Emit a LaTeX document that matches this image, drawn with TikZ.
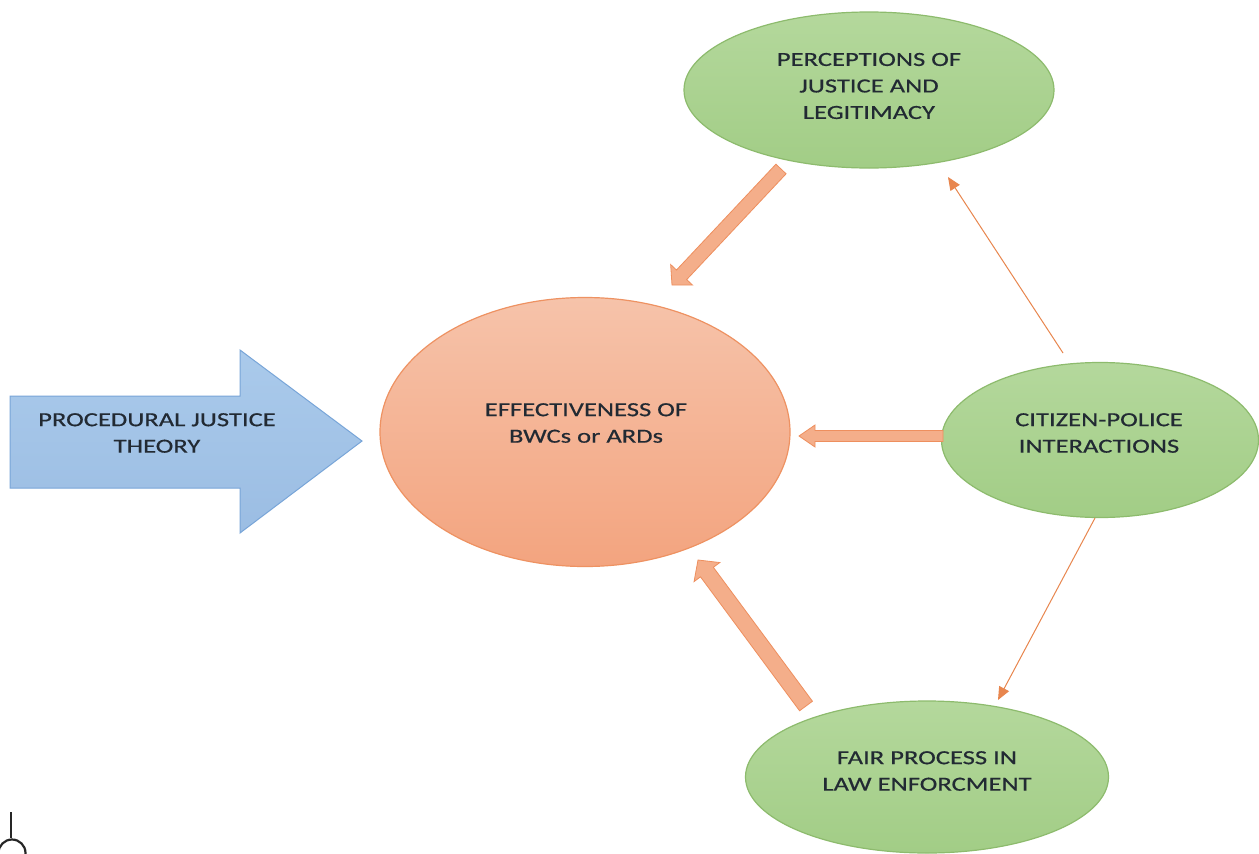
\documentclass[tikz,border=0pt]{standalone}
\usepackage{fontspec}
\newfontfamily\diagfont[FakeStretch=1.33,FakeBold=0.5]{Carlito}
\usetikzlibrary{shapes.geometric,arrows.meta,calc}
\definecolor{txtc}{HTML}{222A33}
\definecolor{greenT}{HTML}{B4D89C}
\definecolor{greenB}{HTML}{A2CD86}
\definecolor{greenline}{HTML}{8DBB6D}
\definecolor{salmonT}{HTML}{F6C3AA}
\definecolor{salmonB}{HTML}{F3A47F}
\definecolor{salmonline}{HTML}{EE9262}
\definecolor{fatfill}{HTML}{F4AE8A}
\definecolor{fatline}{HTML}{EE8F5E}
\definecolor{thinc}{HTML}{E8864E}
\definecolor{blueT}{HTML}{AACAEB}
\definecolor{blueB}{HTML}{9BBDE3}
\definecolor{blueline}{HTML}{78A5D8}
% #1 from, #2 to, #3 half shaft width, #4 half head width, #5 head length
\newcommand\fatarrow[5]{%
  \coordinate (fa-h) at ($(#2)!#5!(#1)$);
  \draw[fatstyle] ($(#1)!#3!90:(#2)$) -- ($(fa-h)!#3!-90:(#1)$) -- ($(fa-h)!#4!-90:(#1)$)
     -- (#2) -- ($(fa-h)!#4!90:(#1)$) -- ($(fa-h)!#3!90:(#1)$) -- ($(#1)!#3!-90:(#2)$) -- cycle;}
\begin{document}
\begin{tikzpicture}[x=1pt,y=-1pt,
  lbl/.style={font=\diagfont\fontsize{20}{26.5}\selectfont, text=txtc, align=center, inner sep=0pt},
  greenell/.style={ellipse, draw=greenline, line width=1.2pt, top color=greenT, bottom color=greenB, inner sep=0pt},
  salmonell/.style={ellipse, draw=salmonline, line width=1.2pt, top color=salmonT, bottom color=salmonB, inner sep=0pt},
  fatstyle/.style={fill=fatfill, draw=fatline, line width=0.8pt, line join=miter},
  thinarrow/.style={draw=thinc, line width=1pt, -{Triangle[length=13pt,width=11pt]}},
  bluearrow/.style={draw=blueline, line width=1pt, top color=blueT, bottom color=blueB}
]
\useasboundingbox (0,0) rectangle (1259,854);
\fill[white] (0,0) rectangle (1259,854);
\clip (0,0) rectangle (1259,854);

% blue input arrow
\path[bluearrow] (10,396) -- (240,396) -- (240,350) -- (362,441) -- (240,533) -- (240,488) -- (10,488) -- cycle;
\node[lbl] (pjt) at (157,433) {PROCEDURAL JUSTICE\\THEORY};

% ellipses
\node[salmonell, minimum width=410pt, minimum height=269pt] (eff) at (585,432) {};
\node[lbl] (effT) at (586,423) {EFFECTIVENESS OF\\BWCs or ARDs};

\node[greenell, minimum width=370pt, minimum height=156pt] (perc) at (869,90) {};
\node[lbl] (percT) at (869,86) {PERCEPTIONS OF\\JUSTICE AND\\LEGITIMACY};

\node[greenell, minimum width=317pt, minimum height=155pt] (cit) at (1100,440) {};
\node[lbl] (citT) at (1099,433) {CITIZEN-POLICE\\INTERACTIONS};

\node[greenell, minimum width=363pt, minimum height=152pt] (fair) at (927,777) {};
\node[lbl] (fairT) at (927,771) {FAIR PROCESS IN\\LAW ENFORCMENT};

% connector end points
\coordinate (f1s) at (781,169);
\coordinate (f1e) at (672,285);
\coordinate (f2s) at (806,706);
\coordinate (f2e) at (698,560);
\coordinate (f3s) at (943,436);
\coordinate (f3e) at (799,436);
\coordinate (t1s) at (1063,353);
\coordinate (t1e) at (948,177);
\coordinate (t2s) at (1095,518);
\coordinate (t2e) at (998,700);

% thick arrows
\fatarrow{f1s}{f1e}{7pt}{15pt}{14pt}
\fatarrow{f2s}{f2e}{8pt}{16pt}{15pt}
\fatarrow{f3s}{f3e}{5.5pt}{11pt}{16pt}

% thin arrows
\draw[thinarrow] (t1s) -- (t1e);
\draw[thinarrow] (t2s) -- (t2e);

% stray mark bottom-left
\draw[black!85, line width=1.3pt] (11,812) -- (11,838);
\draw[black!85, line width=2.2pt] (12,853) circle[radius=13.5];
\end{tikzpicture}
\end{document}
